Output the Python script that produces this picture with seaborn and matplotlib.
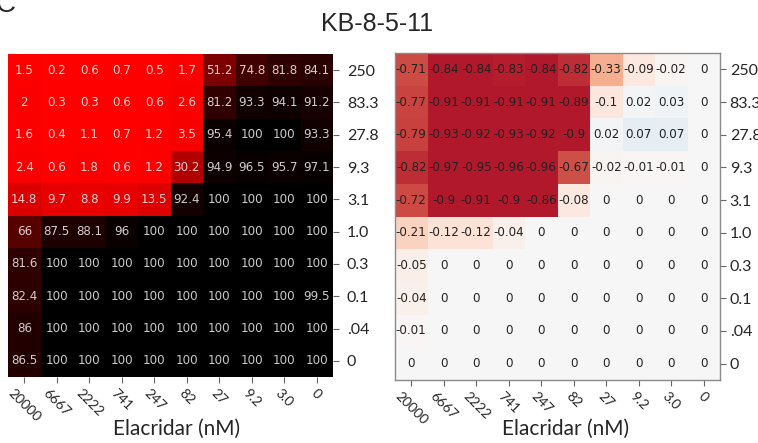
import numpy as np
import pandas as pd
import matplotlib
matplotlib.use("Agg")
import matplotlib.pyplot as plt
import seaborn as sns
from matplotlib.colors import LinearSegmentedColormap

# ---- data ----
elacridar = ["20000", "6667", "2222", "741", "247", "82", "27", "9.2", "3.0", "0"]
drug_conc = ["250", "83.3", "27.8", "9.3", "3.1", "1.0", "0.3", "0.1", ".04", "0"]

viability = [
    [1.5, 0.2, 0.6, 0.7, 0.5, 1.7, 51.2, 74.8, 81.8, 84.1],
    [2, 0.3, 0.3, 0.6, 0.6, 2.6, 81.2, 93.3, 94.1, 91.2],
    [1.6, 0.4, 1.1, 0.7, 1.2, 3.5, 95.4, 100, 100, 93.3],
    [2.4, 0.6, 1.8, 0.6, 1.2, 30.2, 94.9, 96.5, 95.7, 97.1],
    [14.8, 9.7, 8.8, 9.9, 13.5, 92.4, 100, 100, 100, 100],
    [66, 87.5, 88.1, 96, 100, 100, 100, 100, 100, 100],
    [81.6, 100, 100, 100, 100, 100, 100, 100, 100, 100],
    [82.4, 100, 100, 100, 100, 100, 100, 100, 100, 99.5],
    [86, 100, 100, 100, 100, 100, 100, 100, 100, 100],
    [86.5, 100, 100, 100, 100, 100, 100, 100, 100, 100],
]

synergy = [
    [-0.71, -0.84, -0.84, -0.83, -0.84, -0.82, -0.33, -0.09, -0.02, 0],
    [-0.77, -0.91, -0.91, -0.91, -0.91, -0.89, -0.1, 0.02, 0.03, 0],
    [-0.79, -0.93, -0.92, -0.93, -0.92, -0.9, 0.02, 0.07, 0.07, 0],
    [-0.82, -0.97, -0.95, -0.96, -0.96, -0.67, -0.02, -0.01, -0.01, 0],
    [-0.72, -0.9, -0.91, -0.9, -0.86, -0.08, 0, 0, 0, 0],
    [-0.21, -0.12, -0.12, -0.04, 0, 0, 0, 0, 0, 0],
    [-0.05, 0, 0, 0, 0, 0, 0, 0, 0, 0],
    [-0.04, 0, 0, 0, 0, 0, 0, 0, 0, 0],
    [-0.01, 0, 0, 0, 0, 0, 0, 0, 0, 0],
    [0, 0, 0, 0, 0, 0, 0, 0, 0, 0],
]

title = "KB-8-5-11"
xlabel = "Elacridar (nM)"

# ---- style ----
sns.set_style("white")
plt.rcParams["font.family"] = ["Lato", "DejaVu Sans"]

df1 = pd.DataFrame(viability, index=drug_conc, columns=elacridar)
df2 = pd.DataFrame(synergy, index=drug_conc, columns=elacridar)

red_black = LinearSegmentedColormap.from_list("rb", ["#ff0000", "#000000"])
div_cmap = LinearSegmentedColormap.from_list(
    "div",
    [(0.0, "#b2182b"), (0.08, "#b2182b"), (0.10, "#c8413f"), (0.17, "#cf5048"),
     (0.335, "#f5af91"), (0.40, "#fad5c3"), (0.45, "#fce6dc"), (0.5, "#f7f7f7"),
     (0.55, "#dde9f2"), (1.0, "#2166ac")])

fig = plt.figure(figsize=(7.58, 4.43), dpi=100)
ax1 = fig.add_axes([8 / 758, 1 - 377 / 443, 325 / 758, 323 / 443])
ax2 = fig.add_axes([395 / 758, 1 - 380 / 443, 325 / 758, 327 / 443])

sns.heatmap(df1, ax=ax1, cmap=red_black, vmin=0, vmax=100, cbar=False,
            annot=True, fmt="g", xticklabels=True, yticklabels=True,
            annot_kws=dict(fontsize=8.6, color="white", alpha=0.8,
                           fontfamily="DejaVu Sans"))

sns.heatmap(df2, ax=ax2, cmap=div_cmap, vmin=-1, vmax=1, cbar=False,
            annot=True, fmt="g", xticklabels=True, yticklabels=True,
            annot_kws=dict(fontsize=8.6, color="#222222", fontfamily="DejaVu Sans"))

for ax, pad in ((ax1, 6), (ax2, 3)):
    ax.tick_params(axis="y", left=False, right=True, labelleft=False, labelright=True,
                   length=4, width=0.8, color="#666666", labelsize=11.5, pad=pad)
    ax.tick_params(axis="x", bottom=True, length=4, width=0.8, color="#666666",
                   labelsize=10, pad=3)
    plt.setp(ax.get_yticklabels(), rotation=0)
    plt.setp(ax.get_xticklabels(), rotation=-45, ha="center")
    ax.set_ylabel("")
    ax.set_xlabel(xlabel, fontsize=15)

ax1.xaxis.set_label_coords(0.52, -(419 - 377) / 323)
ax2.xaxis.set_label_coords(0.525, -(419 - 380) / 327)

for s in ax2.spines.values():
    s.set_visible(True)
    s.set_color("#8a8a8a")
    s.set_linewidth(1.0)

fig.text(377 / 758, 1 - 24 / 443, title, ha="center", va="center", fontsize=18,
         family=["Liberation Sans", "DejaVu Sans"])
fig.text(-4 / 758, 1 - 12 / 443, "C", ha="left", va="baseline", fontsize=20,
         family=["Liberation Sans", "DejaVu Sans"])

fig.savefig("out.png", dpi=100)
